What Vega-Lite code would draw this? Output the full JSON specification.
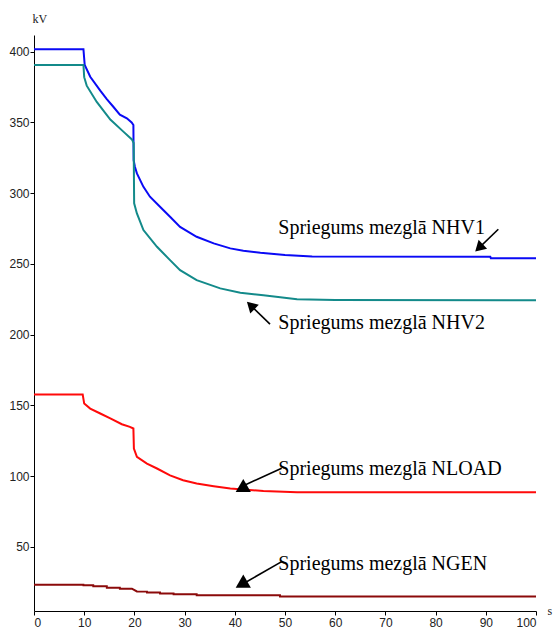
{
  "$schema": "https://vega.github.io/schema/vega-lite/v6.json",
  "width": 502,
  "height": 576,
  "autosize": {"type": "none"},
  "padding": {"left": 34, "top": 35, "right": 18, "bottom": 19},
  "background": "white",
  "config": {
    "view": {"stroke": null},
    "axis": {
      "grid": false,
      "domainColor": "black",
      "domainWidth": 1,
      "tickColor": "black",
      "tickSize": 4,
      "labelFont": "Liberation Sans",
      "labelFontSize": 12,
      "labelColor": "#222222",
      "titleFont": "Liberation Serif",
      "titleFontWeight": "normal",
      "titleFontSize": 12,
      "titleColor": "#222222"
    }
  },
  "datasets": {
    "series": [
      {"node": "NHV1", "t": 0, "v": 401.7},
      {"node": "NHV1", "t": 9.85, "v": 401.7},
      {"node": "NHV1", "t": 10.1, "v": 390.6},
      {"node": "NHV1", "t": 11.2, "v": 382.3},
      {"node": "NHV1", "t": 13.2, "v": 372.5},
      {"node": "NHV1", "t": 14.5, "v": 366.5},
      {"node": "NHV1", "t": 15.8, "v": 361.1},
      {"node": "NHV1", "t": 17.1, "v": 355.5},
      {"node": "NHV1", "t": 18.5, "v": 352.9},
      {"node": "NHV1", "t": 19.45, "v": 350.0},
      {"node": "NHV1", "t": 19.8, "v": 348.2},
      {"node": "NHV1", "t": 19.85, "v": 323.4},
      {"node": "NHV1", "t": 20.1, "v": 318.7},
      {"node": "NHV1", "t": 20.5, "v": 314.0},
      {"node": "NHV1", "t": 21.8, "v": 304.5},
      {"node": "NHV1", "t": 23.1, "v": 297.5},
      {"node": "NHV1", "t": 25.1, "v": 290.4},
      {"node": "NHV1", "t": 27.1, "v": 283.3},
      {"node": "NHV1", "t": 29.1, "v": 276.2},
      {"node": "NHV1", "t": 32.4, "v": 269.2},
      {"node": "NHV1", "t": 35.8, "v": 264.5},
      {"node": "NHV1", "t": 39.1, "v": 261.0},
      {"node": "NHV1", "t": 41.7, "v": 259.3},
      {"node": "NHV1", "t": 45.1, "v": 257.9},
      {"node": "NHV1", "t": 50.0, "v": 256.3},
      {"node": "NHV1", "t": 55.4, "v": 255.2},
      {"node": "NHV1", "t": 90.9, "v": 255.0},
      {"node": "NHV1", "t": 91.0, "v": 254.1},
      {"node": "NHV1", "t": 100, "v": 254.1},
      {"node": "NHV2", "t": 0, "v": 390.6},
      {"node": "NHV2", "t": 9.85, "v": 390.6},
      {"node": "NHV2", "t": 10.0, "v": 382.0},
      {"node": "NHV2", "t": 10.5, "v": 376.0},
      {"node": "NHV2", "t": 12.5, "v": 364.5},
      {"node": "NHV2", "t": 15.2, "v": 352.0},
      {"node": "NHV2", "t": 17.8, "v": 343.5},
      {"node": "NHV2", "t": 19.5, "v": 338.0},
      {"node": "NHV2", "t": 19.85, "v": 335.5},
      {"node": "NHV2", "t": 19.95, "v": 292.8},
      {"node": "NHV2", "t": 20.5, "v": 285.7},
      {"node": "NHV2", "t": 21.8, "v": 273.9},
      {"node": "NHV2", "t": 24.5, "v": 262.1},
      {"node": "NHV2", "t": 27.1, "v": 252.7},
      {"node": "NHV2", "t": 29.1, "v": 245.6},
      {"node": "NHV2", "t": 32.4, "v": 238.5},
      {"node": "NHV2", "t": 37.1, "v": 232.7},
      {"node": "NHV2", "t": 41.1, "v": 229.6},
      {"node": "NHV2", "t": 45.7, "v": 227.8},
      {"node": "NHV2", "t": 52.4, "v": 225.0},
      {"node": "NHV2", "t": 60.0, "v": 224.5},
      {"node": "NHV2", "t": 100, "v": 224.3},
      {"node": "NLOAD", "t": 0, "v": 157.7},
      {"node": "NLOAD", "t": 9.7, "v": 157.7},
      {"node": "NLOAD", "t": 10.0, "v": 151.3},
      {"node": "NLOAD", "t": 11.2, "v": 147.8},
      {"node": "NLOAD", "t": 13.2, "v": 144.3},
      {"node": "NLOAD", "t": 15.2, "v": 140.8},
      {"node": "NLOAD", "t": 17.5, "v": 136.7},
      {"node": "NLOAD", "t": 19.1, "v": 134.8},
      {"node": "NLOAD", "t": 19.8, "v": 133.7},
      {"node": "NLOAD", "t": 19.9, "v": 119.5},
      {"node": "NLOAD", "t": 20.5, "v": 113.6},
      {"node": "NLOAD", "t": 22.5, "v": 108.9},
      {"node": "NLOAD", "t": 24.5, "v": 105.4},
      {"node": "NLOAD", "t": 27.1, "v": 100.6},
      {"node": "NLOAD", "t": 29.7, "v": 97.1},
      {"node": "NLOAD", "t": 32.4, "v": 94.8},
      {"node": "NLOAD", "t": 35.8, "v": 92.9},
      {"node": "NLOAD", "t": 39.1, "v": 91.2},
      {"node": "NLOAD", "t": 45.7, "v": 89.5},
      {"node": "NLOAD", "t": 52.4, "v": 88.6},
      {"node": "NLOAD", "t": 100, "v": 88.6},
      {"node": "NGEN", "t": 0, "v": 23.3},
      {"node": "NGEN", "t": 9.84, "v": 23.3},
      {"node": "NGEN", "t": 9.85, "v": 22.9},
      {"node": "NGEN", "t": 11.8, "v": 22.9},
      {"node": "NGEN", "t": 11.81, "v": 22.2},
      {"node": "NGEN", "t": 14.5, "v": 22.2},
      {"node": "NGEN", "t": 14.51, "v": 21.2},
      {"node": "NGEN", "t": 17.1, "v": 21.2},
      {"node": "NGEN", "t": 17.11, "v": 20.5},
      {"node": "NGEN", "t": 19.5, "v": 20.5},
      {"node": "NGEN", "t": 20.5, "v": 18.5},
      {"node": "NGEN", "t": 22.5, "v": 18.4},
      {"node": "NGEN", "t": 22.51, "v": 17.7},
      {"node": "NGEN", "t": 25.1, "v": 17.7},
      {"node": "NGEN", "t": 25.11, "v": 17.0},
      {"node": "NGEN", "t": 27.8, "v": 17.0},
      {"node": "NGEN", "t": 27.81, "v": 16.5},
      {"node": "NGEN", "t": 32.4, "v": 16.5},
      {"node": "NGEN", "t": 32.41, "v": 15.8},
      {"node": "NGEN", "t": 49.0, "v": 15.8},
      {"node": "NGEN", "t": 49.01, "v": 14.9},
      {"node": "NGEN", "t": 100, "v": 14.9}
    ],
    "notes": [
      {"label": "Spriegums mezglā NHV1", "x": 48.67, "y": 271.2},
      {"label": "Spriegums mezglā NHV2", "x": 48.67, "y": 204.0},
      {"label": "Spriegums mezglā NLOAD", "x": 48.67, "y": 100.8},
      {"label": "Spriegums mezglā NGEN", "x": 48.67, "y": 33.7}
    ],
    "arrows": [
      {"node": "NHV1", "x1": 92.49, "y1": 274.5, "x2": 88.65, "y2": 261.3, "hx": 88.65, "hy": 261.3, "angle": 226},
      {"node": "NHV2", "x1": 47.01, "y1": 207.5, "x2": 43.17, "y2": 220.6, "hx": 43.17, "hy": 220.6, "angle": 314},
      {"node": "NLOAD", "x1": 49.34, "y1": 105.6, "x2": 42.03, "y2": 93.8, "hx": 41.69, "hy": 93.4, "angle": 0},
      {"node": "NGEN", "x1": 49.34, "y1": 39.6, "x2": 42.37, "y2": 25.4, "hx": 41.69, "hy": 25.8, "angle": 0}
    ]
  },
  "layer": [
    {
      "data": {"name": "series"},
      "mark": {"type": "line", "strokeWidth": 2, "interpolate": "linear"},
      "encoding": {
        "x": {
          "field": "t", "type": "quantitative",
          "scale": {"domain": [0, 100], "nice": false, "zero": false},
          "axis": {
            "values": [0, 10, 20, 30, 40, 50, 60, 70, 80, 90, 100],
            "labelPadding": 2,
            "title": "s",
            "titleX": 513,
            "titleY": 3,
            "titleAlign": "left",
            "titleBaseline": "alphabetic"
          }
        },
        "y": {
          "field": "v", "type": "quantitative",
          "scale": {"domain": [4.7, 411.8], "nice": false, "zero": false},
          "axis": {
            "values": [50, 100, 150, 200, 250, 300, 350, 400],
            "labelPadding": 1,
            "title": "kV",
            "titleAngle": 0,
            "titleX": -2,
            "titleY": -13,
            "titleAlign": "left",
            "titleBaseline": "alphabetic"
          }
        },
        "color": {
          "field": "node", "type": "nominal",
          "scale": {"domain": ["NHV1", "NHV2", "NLOAD", "NGEN"], "range": ["#0a0af5", "#138a8a", "#ff0a0a", "#8b0a0a"]},
          "legend": null
        },
        "detail": {"field": "node"}
      }
    },
    {
      "data": {"name": "arrows"},
      "mark": {"type": "rule", "color": "black", "strokeWidth": 1.6},
      "encoding": {
        "x": {"field": "x1", "type": "quantitative"},
        "y": {"field": "y1", "type": "quantitative"},
        "x2": {"field": "x2"},
        "y2": {"field": "y2"}
      }
    },
    {
      "data": {"name": "arrows"},
      "transform": [{"filter": "datum.angle != 0"}],
      "mark": {"type": "point", "shape": "triangle-up", "filled": true, "color": "black", "opacity": 1, "size": 150},
      "encoding": {
        "x": {"field": "hx", "type": "quantitative"},
        "y": {"field": "hy", "type": "quantitative"},
        "angle": {"field": "angle", "type": "quantitative", "scale": null}
      }
    },
    {
      "data": {"name": "arrows"},
      "transform": [{"filter": "datum.angle == 0"}],
      "mark": {"type": "point", "shape": "triangle-up", "filled": true, "color": "black", "opacity": 1, "size": 230},
      "encoding": {
        "x": {"field": "hx", "type": "quantitative"},
        "y": {"field": "hy", "type": "quantitative"}
      }
    },
    {
      "data": {"name": "notes"},
      "mark": {"type": "text", "font": "Liberation Serif", "fontSize": 20, "align": "left", "baseline": "alphabetic", "color": "black"},
      "encoding": {
        "x": {"field": "x", "type": "quantitative"},
        "y": {"field": "y", "type": "quantitative"},
        "text": {"field": "label"}
      }
    }
  ]
}
